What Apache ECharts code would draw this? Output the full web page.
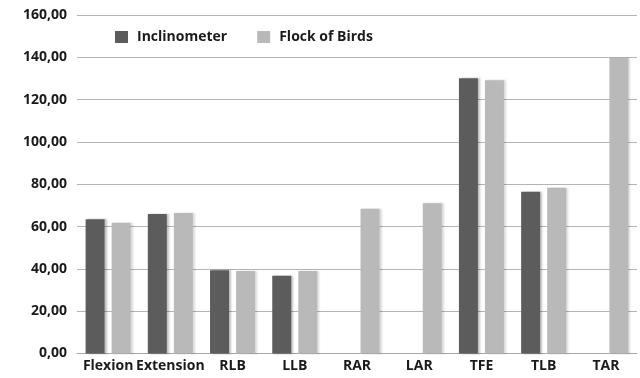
<!DOCTYPE html>
<html>
<head>
<meta charset="utf-8">
<script src="https://cdn.jsdelivr.net/npm/echarts@6/dist/echarts.min.js"></script>
<style>
  html, body { margin: 0; padding: 0; background: #fff; }
  #chart { width: 640px; height: 378px; }
</style>
</head>
<body>
<div id="chart"></div>
<script>
// movements
let categories = ['Flexion', 'Extension', 'RLB', 'LLB', 'RAR', 'LAR', 'TFE', 'TLB', 'TAR'];
// degrees, '-' = not measured
let inclinometer = [63.4, 65.9, 39.3, 36.8, '-', '-', 130.1, 76.5, '-'];
let flockOfBirds = [61.8, 66.4, 39.0, 39.0, 68.4, 71.0, 129.1, 78.4, 139.8];

let fontFam = '"Open Sans", Lato, sans-serif';

let chartOption = {
  animation: false,
  grid: {
    left: 77,
    right: 3,
    top: 15,
    bottom: 24.5
  },
  legend: {
    left: 110,
    top: 25,
    itemWidth: 13,
    itemHeight: 12,
    itemGap: 30,
    icon: 'rect',
    textStyle: {
      fontFamily: fontFam,
      fontSize: 14,
      fontWeight: 'bold',
      color: '#1a1a1a',
      padding: [0, 0, 0, 4]
    },
    data: ['Inclinometer', 'Flock of Birds']
  },
  xAxis: {
    type: 'category',
    data: categories,
    axisLine: { lineStyle: { color: '#a8a8a8', width: 1 } },
    axisTick: { show: false },
    axisLabel: {
      interval: 0,
      margin: 6,
      fontFamily: fontFam,
      fontSize: 14,
      fontWeight: 'bold',
      color: '#1a1a1a'
    }
  },
  yAxis: {
    type: 'value',
    min: 0,
    max: 160,
    interval: 20,
    axisLine: { show: false },
    axisTick: { show: false },
    splitLine: { lineStyle: { color: '#b4b4b4', width: 1 } },
    axisLabel: {
      margin: 10,
      fontFamily: fontFam,
      fontSize: 14,
      fontWeight: 'bold',
      color: '#1a1a1a',
      formatter: function (v) {
        return v.toFixed(2).replace('.', ',');
      }
    }
  },
  series: [
    {
      name: 'Inclinometer',
      type: 'bar',
      data: inclinometer,
      barWidth: 19,
      barGap: '37%',
      itemStyle: {
        color: '#5c5c5c',
        shadowColor: 'rgba(0,0,0,0.25)',
        shadowOffsetX: 2,
        shadowBlur: 2
      }
    },
    {
      name: 'Flock of Birds',
      type: 'bar',
      data: flockOfBirds,
      barWidth: 19,
      itemStyle: {
        color: '#b9b9b9',
        shadowColor: 'rgba(0,0,0,0.15)',
        shadowOffsetX: 2,
        shadowBlur: 2
      }
    }
  ]
};

var chartDom = document.getElementById('chart');
var myChart = echarts.init(chartDom);
myChart.setOption(chartOption);
</script>
</body>
</html>
